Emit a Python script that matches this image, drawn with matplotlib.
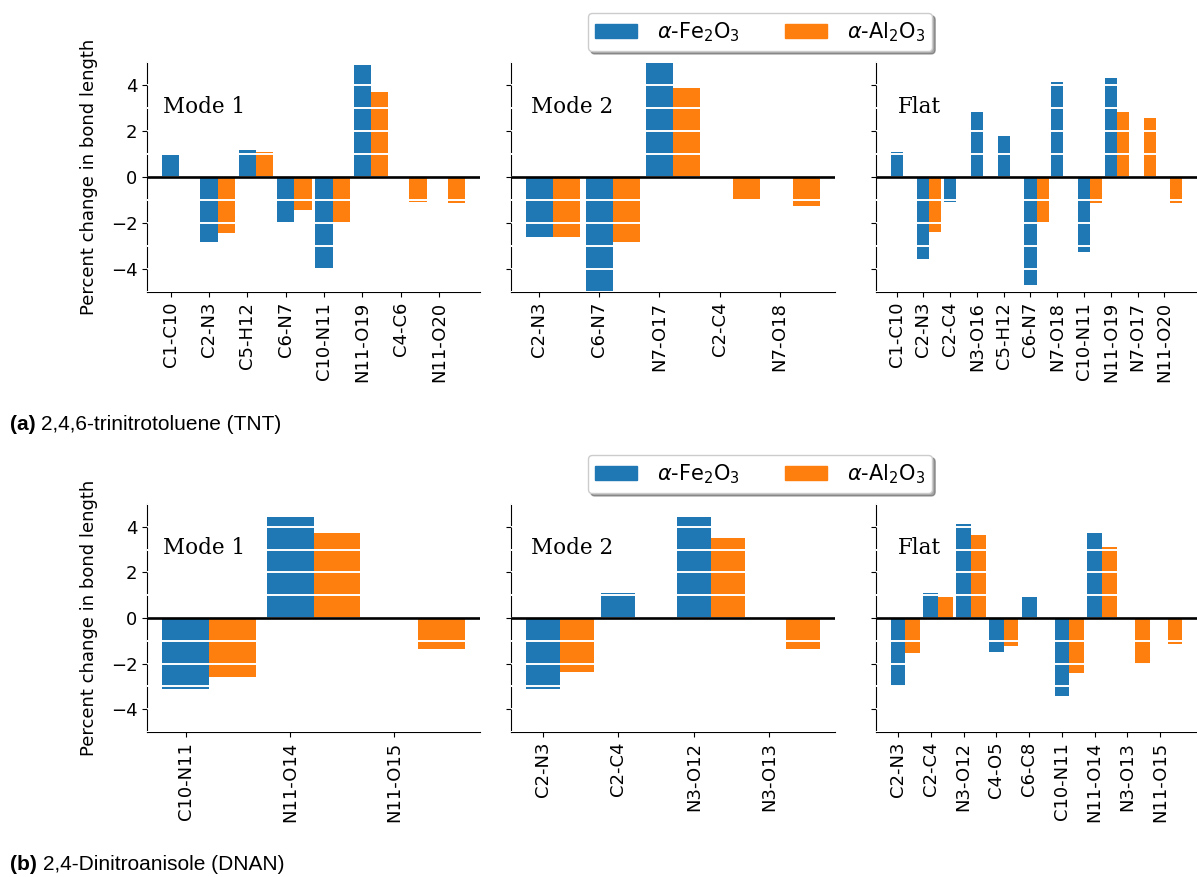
import numpy as np
import matplotlib
matplotlib.use('Agg')
import matplotlib.pyplot as plt
from matplotlib.ticker import MultipleLocator
from matplotlib.patches import Patch

nan = np.nan

# TNT: percent change in bond length on each surface
tnt_mode1_bonds = ['C1-C10', 'C2-N3', 'C5-H12', 'C6-N7', 'C10-N11', 'N11-O19', 'C4-C6', 'N11-O20']
tnt_mode1_fe = [0.95, -2.84, 1.16, -1.96, -3.94, 4.87, nan, nan]
tnt_mode1_al = [nan, -2.44, 1.08, -1.45, -1.96, 3.69, -1.09, -1.13]

tnt_mode2_bonds = ['C2-N3', 'C6-N7', 'N7-O17', 'C2-C4', 'N7-O18']
tnt_mode2_fe = [-2.62, -4.95, 4.95, nan, nan]
tnt_mode2_al = [-2.62, -2.81, 3.87, -0.95, -1.24]

tnt_flat_bonds = ['C1-C10', 'C2-N3', 'C2-C4', 'N3-O16', 'C5-H12', 'C6-N7',
                  'N7-O18', 'C10-N11', 'N11-O19', 'N7-O17', 'N11-O20']
tnt_flat_fe = [1.08, -3.55, -1.10, 2.82, 1.77, -4.68, 4.13, -3.24, 4.31, nan, nan]
tnt_flat_al = [nan, -2.41, nan, nan, nan, -1.96, nan, -1.15, 2.82, 2.56, -1.15]

# DNAN
dnan_mode1_bonds = ['C10-N11', 'N11-O14', 'N11-O15']
dnan_mode1_fe = [-3.12, 4.43, nan]
dnan_mode1_al = [-2.59, 3.73, -1.34]

dnan_mode2_bonds = ['C2-N3', 'C2-C4', 'N3-O12', 'N3-O13']
dnan_mode2_fe = [-3.12, 1.11, 4.43, nan]
dnan_mode2_al = [-2.35, nan, 3.51, -1.38]

dnan_flat_bonds = ['C2-N3', 'C2-C4', 'N3-O12', 'C4-O5', 'C6-C8', 'C10-N11', 'N11-O14', 'N3-O13', 'N11-O15']
dnan_flat_fe = [-3.00, 1.11, 4.13, -1.47, 0.93, -3.40, 3.73, nan, nan]
dnan_flat_al = [-1.52, 0.92, 3.66, -1.21, nan, -2.43, 3.12, -2.00, -1.12]

panel_titles = ['Mode 1', 'Mode 2', 'Flat']
surfaces = [r'$\alpha$-Fe$_2$O$_3$', r'$\alpha$-Al$_2$O$_3$']
captions = [('(a)', '2,4,6-trinitrotoluene (TNT)'), ('(b)', '2,4-Dinitroanisole (DNAN)')]

rows = [
    [(tnt_mode1_bonds, tnt_mode1_fe, tnt_mode1_al),
     (tnt_mode2_bonds, tnt_mode2_fe, tnt_mode2_al),
     (tnt_flat_bonds, tnt_flat_fe, tnt_flat_al)],
    [(dnan_mode1_bonds, dnan_mode1_fe, dnan_mode1_al),
     (dnan_mode2_bonds, dnan_mode2_fe, dnan_mode2_al),
     (dnan_flat_bonds, dnan_flat_fe, dnan_flat_al)],
]

colors = ['#1f77b4', '#ff7f0e']
width = 0.45

W, H = 1197, 877
fig = plt.figure(figsize=(W / 100, H / 100), dpi=100)

# axes boxes in pixels: (left, right) per column, (top, bottom) per row
col_px = [(147, 480), (511, 835), (876, 1197)]
row_px = [(62, 292), (504, 732)]
title_x = [0.048, 0.062, 0.069]

for r, row in enumerate(rows):
    top, bot = row_px[r]
    for c, (bonds, fe, al) in enumerate(row):
        left, right = col_px[c]
        ax = fig.add_axes([left / W, 1 - bot / H, (right - left) / W, (bot - top) / H])
        x = np.arange(len(bonds))
        ax.bar(x, fe, width, color=colors[0])
        ax.bar(x + width, al, width, color=colors[1])
        ax.axhline(0, color='black', lw=1.9, zorder=3)

        ax.set_ylim(-5, 5)
        ax.set_yticks([-4, -2, 0, 2, 4])
        ax.yaxis.set_minor_locator(MultipleLocator(1))
        ax.tick_params(axis='y', which='minor', length=0)
        ax.grid(axis='y', which='both', color='white', lw=1.4)
        ax.set_axisbelow(False)

        ax.set_xticks(x)
        ax.set_xticklabels(bonds, rotation=90, fontsize=13)
        ax.tick_params(axis='y', labelsize=13)
        ax.spines['top'].set_visible(False)
        ax.spines['right'].set_visible(False)
        if c == 0:
            ax.set_ylabel('Percent change in bond length', fontsize=13, labelpad=9)
        else:
            ax.tick_params(axis='y', labelleft=False)

        ax.text(title_x[c], 0.78, panel_titles[c], transform=ax.transAxes,
                family='DejaVu Serif', fontsize=15.5)

    handles = [Patch(color=col) for col in colors]
    fig.legend(handles, surfaces, loc='upper left', ncol=2, shadow=True,
               bbox_to_anchor=(588 / W, 1 - (top - 49) / H), borderaxespad=0,
               fontsize=15, borderpad=0.35, handletextpad=0.95, columnspacing=2.2)

    tag, name = captions[r]
    y_cap = 1 - (bot + 138) / H
    t = fig.text(10 / W, y_cap, tag + ' ', fontsize=15, fontweight='bold',
                 family='Liberation Sans', va='baseline')
    fig.canvas.draw()
    bb = t.get_window_extent()
    fig.text(bb.x1 / W, y_cap, name, fontsize=15, family='Liberation Sans', va='baseline')

fig.savefig('out.png', dpi=100)
